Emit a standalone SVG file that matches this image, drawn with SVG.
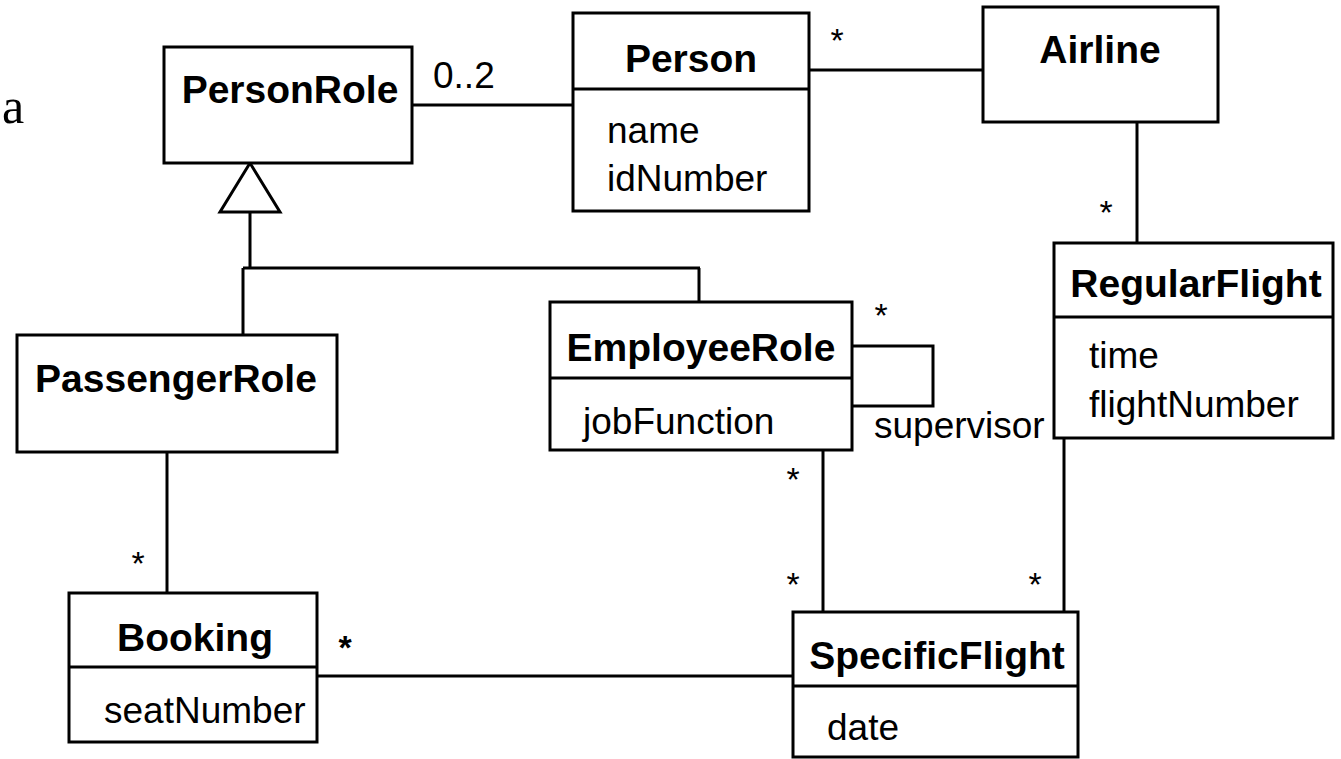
<svg xmlns="http://www.w3.org/2000/svg" width="1341" height="759" viewBox="0 0 1341 759">
  <style>
    .box { fill: #ffffff; stroke: #000000; stroke-width: 3; }
    .sep { stroke: #000000; stroke-width: 3; }
    .edge { fill: none; stroke: #000000; stroke-width: 3; }
    .title { font-family: "Liberation Sans", Arial, sans-serif; font-weight: bold; font-size: 39px; text-anchor: middle; fill: #000; }
    .attr { font-family: "Liberation Sans", Arial, sans-serif; font-size: 37px; fill: #000; }
    .mult { font-family: "Liberation Sans", Arial, sans-serif; font-size: 34px; text-anchor: middle; fill: #000; }
    .label { font-family: "Liberation Sans", Arial, sans-serif; font-size: 37px; fill: #000; }
  </style>
  <rect width="1341" height="759" fill="#ffffff"/>

  <text x="2" y="123" font-family="'Liberation Serif', 'Times New Roman', serif" font-size="50">a</text>

  <!-- associations and generalization -->
  <g id="connectors">
    <line class="edge" x1="412" y1="105" x2="573" y2="105"/>
    <line class="edge" x1="809" y1="70" x2="983" y2="70"/>
    <line class="edge" x1="1137" y1="122" x2="1137" y2="243"/>
    <path class="edge" d="M250,212 V268 M243,268 H700 M243,268 V335 M699,268 V302"/>
    <polygon points="250,163 220,212 280,212" fill="#ffffff" stroke="#000" stroke-width="3"/>
    <path class="edge" d="M852,346 H933 V406 H852"/>
    <line class="edge" x1="823" y1="450" x2="823" y2="612"/>
    <line class="edge" x1="1064" y1="438" x2="1064" y2="612"/>
    <line class="edge" x1="167" y1="452" x2="167" y2="593"/>
    <line class="edge" x1="317" y1="676" x2="793" y2="676"/>

    <text class="label" x="433" y="88" font-size="35">0..2</text>
    <text class="mult" x="837" y="52">*</text>
    <text class="mult" x="1106" y="224">*</text>
    <text class="mult" x="881" y="327">*</text>
    <text class="label" x="874" y="438">supervisor</text>
    <text class="mult" x="793" y="491">*</text>
    <text class="mult" x="793" y="596">*</text>
    <text class="mult" x="1035" y="596">*</text>
    <text class="mult" x="138" y="575">*</text>
    <text class="mult" x="345" y="659" font-weight="bold">*</text>
  </g>

  <g id="PersonRole">
    <rect class="box" x="164" y="47" width="248" height="116"/>
    <text class="title" x="290" y="103">PersonRole</text>
  </g>

  <g id="Person">
    <rect class="box" x="573" y="13" width="236" height="198"/>
    <line class="sep" x1="573" y1="89" x2="809" y2="89"/>
    <text class="title" x="691" y="72">Person</text>
    <text class="attr" x="607" y="143">name</text>
    <text class="attr" x="607" y="191">idNumber</text>
  </g>

  <g id="Airline">
    <rect class="box" x="983" y="7" width="235" height="115"/>
    <text class="title" x="1100" y="63">Airline</text>
  </g>

  <g id="RegularFlight">
    <rect class="box" x="1054" y="243" width="279" height="195"/>
    <line class="sep" x1="1054" y1="317" x2="1333" y2="317"/>
    <text class="title" x="1196" y="297">RegularFlight</text>
    <text class="attr" x="1089" y="368">time</text>
    <text class="attr" x="1089" y="417">flightNumber</text>
  </g>

  <g id="PassengerRole">
    <rect class="box" x="17" y="335" width="320" height="117"/>
    <text class="title" x="176" y="392">PassengerRole</text>
  </g>

  <g id="EmployeeRole">
    <rect class="box" x="550" y="302" width="302" height="148"/>
    <line class="sep" x1="550" y1="378" x2="852" y2="378"/>
    <text class="title" x="701" y="361">EmployeeRole</text>
    <text class="attr" x="583" y="434">jobFunction</text>
  </g>

  <g id="Booking">
    <rect class="box" x="69" y="593" width="248" height="149"/>
    <line class="sep" x1="69" y1="667" x2="317" y2="667"/>
    <text class="title" x="195" y="651">Booking</text>
    <text class="attr" x="104" y="723">seatNumber</text>
  </g>

  <g id="SpecificFlight">
    <rect class="box" x="793" y="612" width="285" height="145"/>
    <line class="sep" x1="793" y1="686" x2="1078" y2="686"/>
    <text class="title" x="937" y="669">SpecificFlight</text>
    <text class="attr" x="827" y="740">date</text>
  </g>
</svg>
